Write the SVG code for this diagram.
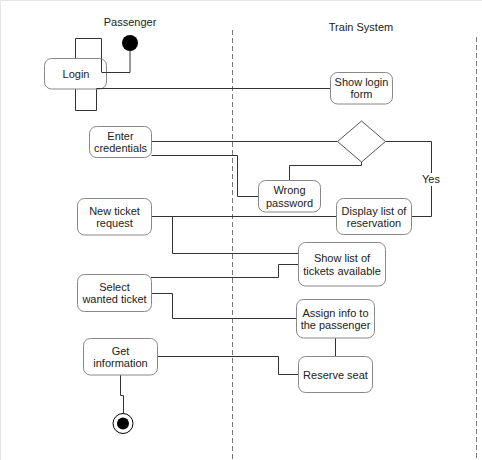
<svg xmlns="http://www.w3.org/2000/svg" width="482" height="460" viewBox="0 0 482 460">
<style>
text{font-family:"Liberation Sans",Arial,sans-serif;font-size:11px;fill:#222;text-anchor:middle}
.box{fill:#fff;stroke:#888;stroke-width:1}
.ln{fill:none;stroke:#333;stroke-width:1}
.lane{fill:none;stroke:#777;stroke-width:1;stroke-dasharray:5 3}
</style>
<rect width="482" height="460" fill="#fff"/>
<path d="M0.5,460 V0.5 H482" fill="none" stroke="#e6e6e6"/>
<g id="lanes">
<path class="lane" d="M232.5,30 V460"/>
<path class="lane" d="M476.5,37 V460"/>
<text x="130" y="26">Passenger</text>
<text x="361" y="31">Train System</text>
</g>
<g id="start">
<circle cx="130" cy="43" r="8" fill="#000"/>
</g>
<g id="login">
<path class="ln" d="M75.5,58 V38.5 H101.5 V72" stroke="#555"/>
<path class="ln" d="M75.5,89 V110.5 H96.5 V88.5" stroke="#555"/>
<rect class="box" x="44.5" y="58.5" width="62" height="30.5" rx="7" fill-opacity="0"/>
<text x="76" y="78">Login</text>
</g>
<g id="connectors">
<path class="ln" d="M130,51 V72.5 H101.5"/>
<path class="ln" d="M96.5,88.5 H330.5"/>
<path class="ln" d="M151.5,141.5 H337.5"/>
<path class="ln" d="M151.5,155.5 H237.5 V196.5 H258.5"/>
<path class="ln" d="M361.5,162 V165.5 H289.5 V180.5"/>
<path class="ln" d="M385.5,141.5 H431.5 V216.5 H411.5"/>
<path class="ln" d="M151.5,216.5 H336.5"/>
<path class="ln" d="M172.5,216.5 V253.5 H298.5"/>
<path class="ln" d="M298.5,264.5 H278.5 V277.5 H151"/>
<path class="ln" d="M151.5,293.5 H172.5 V318.5 H296.5"/>
<path class="ln" d="M335.5,338 V356"/>
<path class="ln" d="M157.5,356.5 H278.5 V374.5 H298.5"/>
<path class="ln" d="M120.5,375 V395.5 H123.5 V413"/>
<rect x="420" y="173" width="23" height="13" fill="#fff"/>
<text x="431" y="183">Yes</text>
</g>
<g id="showLoginForm">
<rect class="box" x="330.5" y="72.5" width="62" height="31.5" rx="7"/>
<text x="361.5" y="86">Show login</text>
<text x="361.5" y="98">form</text>
</g>
<g id="enterCredentials">
<rect class="box" x="89.5" y="126.5" width="62" height="31" rx="7"/>
<text x="120.5" y="139.5">Enter</text>
<text x="120.5" y="152">credentials</text>
</g>
<g id="decision">
<polygon points="361.5,121 385.5,141.5 361.5,162 337.5,141.5" fill="#fff" stroke="#555"/>
</g>
<g id="wrongPassword">
<rect class="box" x="258.5" y="180.5" width="62" height="31.5" rx="7"/>
<text x="289.5" y="194">Wrong</text>
<text x="289.5" y="207">password</text>
</g>
<g id="newTicket">
<rect class="box" x="77.5" y="198.5" width="74" height="36.5" rx="7"/>
<text x="114.5" y="214.5">New ticket</text>
<text x="114.5" y="227">request</text>
</g>
<g id="displayList">
<rect class="box" x="336.5" y="198.5" width="75" height="36" rx="7"/>
<text x="374" y="215">Display list of</text>
<text x="374" y="227">reservation</text>
</g>
<g id="showTickets">
<rect class="box" x="298.5" y="242.5" width="87" height="43.5" rx="7"/>
<text x="342" y="262">Show list of</text>
<text x="342" y="275">tickets available</text>
</g>
<g id="selectTicket">
<rect class="box" x="77.5" y="274.5" width="74" height="37" rx="7"/>
<text x="114.5" y="291">Select</text>
<text x="114.5" y="303">wanted ticket</text>
</g>
<g id="assignInfo">
<rect class="box" x="296.5" y="299.5" width="78" height="38.5" rx="7"/>
<text x="335.5" y="316.5">Assign info to</text>
<text x="335.5" y="329">the passenger</text>
</g>
<g id="getInformation">
<rect class="box" x="83.5" y="338.5" width="74" height="36.5" rx="7"/>
<text x="120.5" y="354.5">Get</text>
<text x="120.5" y="367">information</text>
</g>
<g id="reserveSeat">
<rect class="box" x="298.5" y="356.5" width="74" height="36" rx="7"/>
<text x="335.5" y="379">Reserve seat</text>
</g>
<g id="end">
<circle cx="123" cy="423.5" r="10" fill="#fff" stroke="#000" stroke-width="1"/>
<circle cx="123" cy="423.5" r="6" fill="#000"/>
</g>
</svg>
